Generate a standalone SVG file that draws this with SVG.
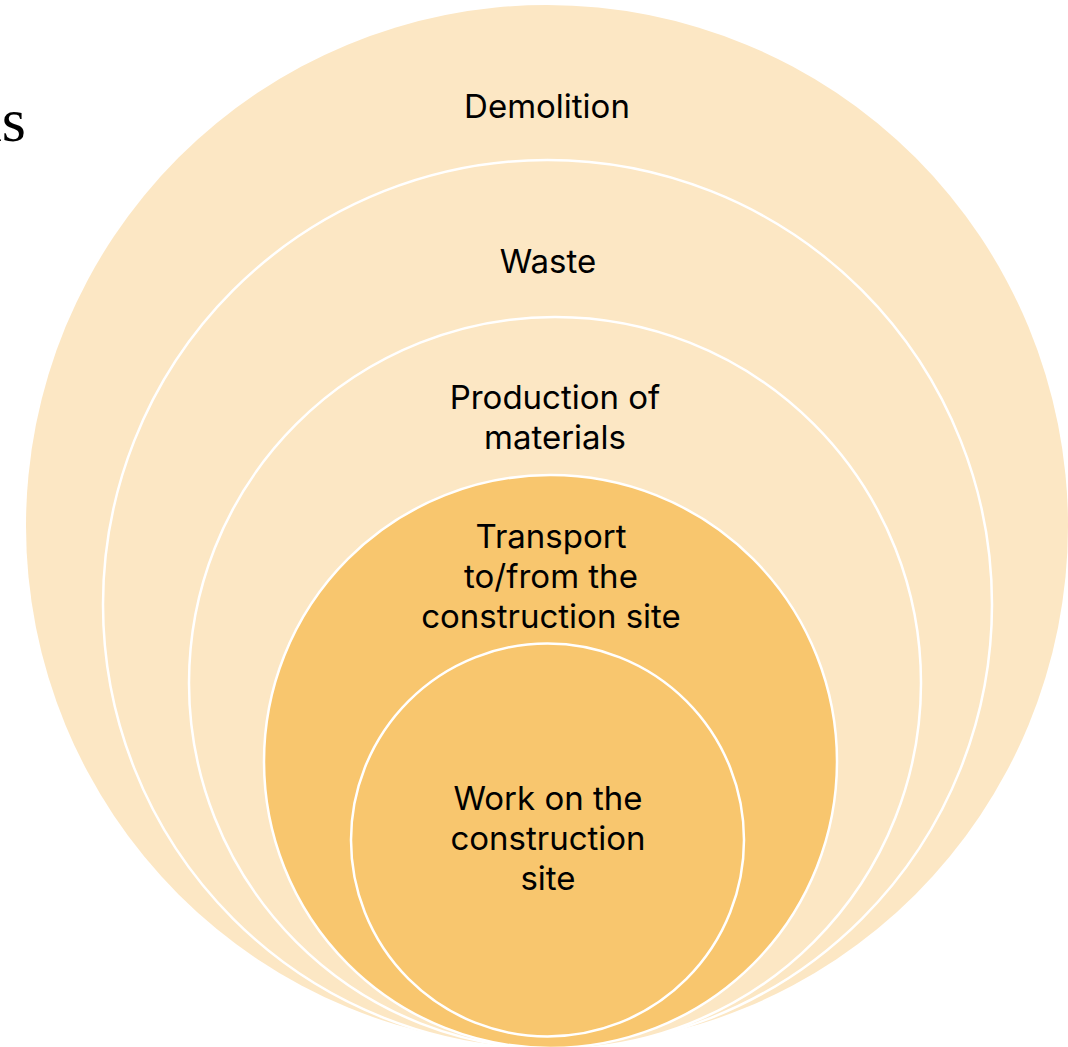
<svg xmlns="http://www.w3.org/2000/svg" width="1068" height="1047" viewBox="0 0 1068 1047">
<style>
.light{fill:#FCE7C4}
.dark{fill:#F8C66E}
.ring{stroke:#FFFFFF;stroke-width:2.5}
.lbl{font-family:Inter,"Noto Sans",sans-serif;font-size:33px;fill:#000000;text-anchor:middle}
.frag{font-family:"Liberation Serif",serif;font-size:62px;fill:#000000;text-anchor:end}
</style>
<rect x="0" y="0" width="1068" height="1047" fill="#FFFFFF"/>
<text class="frag" x="26" y="141">as</text>
<g id="demolition">
<circle class="light" cx="547" cy="526" r="521"/>
<text class="lbl" x="547" y="118">Demolition</text>
</g>
<g id="waste">
<circle class="light ring" cx="547.5" cy="604.5" r="444.5"/>
<text class="lbl" x="548" y="273">Waste</text>
</g>
<g id="production">
<circle class="light ring" cx="555" cy="683" r="366"/>
<text class="lbl" x="555" y="409">Production of</text>
<text class="lbl" x="555" y="449">materials</text>
</g>
<g id="transport">
<circle class="dark ring" cx="550.5" cy="761.5" r="286.5"/>
<text class="lbl" x="551" y="548">Transport</text>
<text class="lbl" x="551" y="588">to/from the</text>
<text class="lbl" x="551" y="628">construction site</text>
</g>
<g id="work">
<circle class="dark ring" cx="547.5" cy="840" r="196.5"/>
<text class="lbl" x="548" y="810">Work on the</text>
<text class="lbl" x="548" y="850">construction</text>
<text class="lbl" x="548" y="890">site</text>
</g>
<g id="connectors"/>
</svg>
